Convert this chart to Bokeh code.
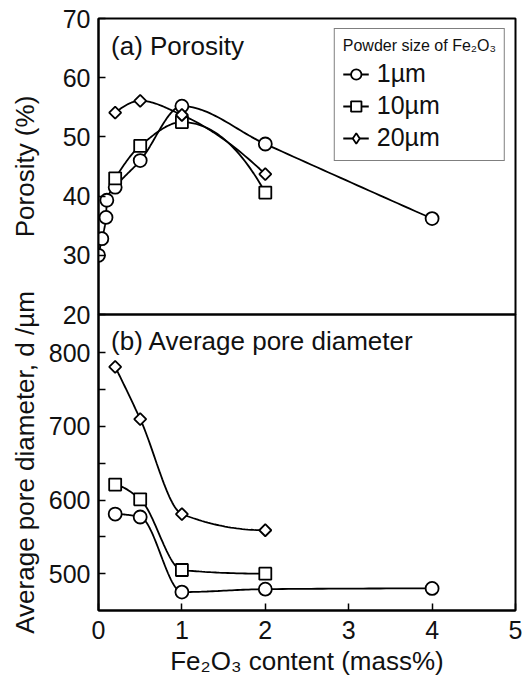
import numpy as np
from bokeh.plotting import figure
from bokeh.models import Range1d, FixedTicker, Label, Legend, LegendItem
from bokeh.layouts import column
from bokeh.embed import file_html
from bokeh.resources import INLINE

FONT = "Liberation Sans"

# ---- data ----
x_por_1 = [0.0, 0.04, 0.09, 0.1, 0.2, 0.5, 1.0, 2.0, 4.0]
por_1 = [30.0, 32.8, 36.4, 39.3, 41.5, 46.0, 55.2, 48.8, 36.2]
x_por_10 = [0.2, 0.5, 1.0, 2.0]
por_10 = [43.0, 48.5, 52.5, 40.6]
x_por_20 = [0.2, 0.5, 1.0, 2.0]
por_20 = [54.1, 56.1, 53.7, 43.7]

x_dia_1 = [0.2, 0.5, 1.0, 2.0, 4.0]
dia_1 = [581, 577, 475, 479, 480]
x_dia_10 = [0.2, 0.5, 1.0, 2.0]
dia_10 = [621, 601, 505, 500]
x_dia_20 = [0.2, 0.5, 1.0, 2.0]
dia_20 = [781, 710, 581, 559]

series_labels = ["1\u00b5m", "10\u00b5m", "20\u00b5m"]
x_ticks = [0, 1, 2, 3, 4, 5]
por_ticks = [20, 30, 40, 50, 60, 70]
dia_ticks = [500, 600, 700, 800]
dia_minor = [550, 650, 750]


def pchip(xs, ys, n=30):
    x = np.asarray(xs, float)
    y = np.asarray(ys, float)
    h = np.diff(x)
    d = np.diff(y) / h
    m = np.zeros_like(y)
    for i in range(1, len(x) - 1):
        if d[i - 1] * d[i] <= 0:
            m[i] = 0.0
        else:
            w1 = 2 * h[i] + h[i - 1]
            w2 = h[i] + 2 * h[i - 1]
            m[i] = (w1 + w2) / (w1 / d[i - 1] + w2 / d[i])

    def end(h0, h1, d0, d1):
        mm = ((2 * h0 + h1) * d0 - h0 * d1) / (h0 + h1)
        if np.sign(mm) != np.sign(d0):
            mm = 0.0
        elif np.sign(d0) != np.sign(d1) and abs(mm) > abs(3 * d0):
            mm = 3 * d0
        return mm

    if len(x) > 2:
        m[0] = end(h[0], h[1], d[0], d[1])
        m[-1] = end(h[-1], h[-2], d[-1], d[-2])
    else:
        m[0] = m[-1] = d[0]
    xx, yy = [], []
    for i in range(len(x) - 1):
        t = np.linspace(0, 1, n, endpoint=(i == len(x) - 2))
        h00 = 2 * t**3 - 3 * t**2 + 1
        h10 = t**3 - 2 * t**2 + t
        h01 = -2 * t**3 + 3 * t**2
        h11 = t**3 - t**2
        xx.extend(x[i] + t * h[i])
        yy.extend(h00 * y[i] + h10 * h[i] * m[i] + h01 * y[i + 1] + h11 * h[i] * m[i + 1])
    return xx, yy


def style(p):
    p.toolbar_location = None
    p.grid.visible = False
    p.outline_line_color = "black"
    p.outline_line_width = 2
    p.border_fill_color = None
    p.background_fill_color = None
    for ax in p.axis:
        ax.axis_line_color = "black"
        ax.axis_line_width = 2
        ax.major_tick_line_color = "black"
        ax.major_tick_line_width = 1.5
        ax.minor_tick_line_color = "black"
        ax.minor_tick_line_width = 1.5
        ax.major_tick_in = 7
        ax.major_tick_out = 0
        ax.minor_tick_in = 7
        ax.minor_tick_out = 0
        ax.major_label_text_font = FONT
        ax.major_label_text_font_size = "25px"
        ax.major_label_text_color = "#111111"
        ax.major_label_standoff = 8
        ax.axis_label_text_font = FONT
        ax.axis_label_text_font_size = "26px"
        ax.axis_label_text_font_style = "normal"
        ax.axis_label_text_color = "#111111"


def draw(p, xs, ys, marker, size, angle=0.0, proxy=False):
    lx, ly = pchip(xs, ys)
    lr = p.line(lx, ly, line_color="black", line_width=1.8)
    rs = [lr]
    if proxy:
        # diamond drawn beneath the rotated squares; it only serves the legend key
        rs.append(p.scatter(xs, ys, marker="diamond", size=10.5,
                            fill_color="white", line_color="black", line_width=1.8))
    sr = p.scatter(xs, ys, marker=marker, size=size, angle=angle,
                   fill_color="white", line_color="black", line_width=1.8)
    if not proxy:
        rs.append(sr)
    return rs


# ---- top panel: porosity ----
p_top = figure(width=530, height=330, output_backend="svg", toolbar_location=None,
               x_range=Range1d(0, 5), y_range=Range1d(20, 70),
               min_border_left=98, min_border_right=15,
               min_border_top=18, min_border_bottom=16)
p_top.xaxis.visible = False
p_top.yaxis.ticker = FixedTicker(ticks=por_ticks)
p_top.yaxis.axis_label = "Porosity (%)"
style(p_top)
p_top.yaxis.axis_label_standoff = 20

r1 = draw(p_top, x_por_1, por_1, "circle", 13)
r10 = draw(p_top, x_por_10, por_10, "square", 12)
r20 = draw(p_top, x_por_20, por_20, "square", 8.5, np.pi / 4, proxy=True)

legend = Legend(items=[LegendItem(label=series_labels[0], renderers=r1),
                       LegendItem(label=series_labels[1], renderers=r10),
                       LegendItem(label=series_labels[2], renderers=r20)],
                location="top_right",
                title="Powder size of Fe\u2082O\u2083",
                title_text_font=FONT, title_text_font_size="16px",
                title_text_font_style="normal", title_text_color="#111111",
                title_standoff=4,
                label_text_font=FONT, label_text_font_size="25px",
                label_text_color="#111111",
                glyph_width=26, glyph_height=26, label_height=26,
                label_standoff=8, spacing=3, padding=8, margin=10,
                border_line_color="black", border_line_width=1.5,
                background_fill_color="white")
p_top.add_layout(legend)

p_top.add_layout(Label(x=0.15, y=65.4, text="(a) Porosity", text_font=FONT,
                       text_font_size="26px", text_baseline="middle",
                       text_color="#111111"))

# ---- bottom panel: average pore diameter ----
p_bot = figure(width=530, height=410, output_backend="svg", toolbar_location=None,
               x_range=Range1d(0, 5), y_range=Range1d(450, 852),
               min_border_left=98, min_border_right=15,
               min_border_top=44, min_border_bottom=70)
p_bot.margin = (-60, 0, 0, 0)
p_bot.xaxis.ticker = FixedTicker(ticks=x_ticks)
p_bot.xaxis.axis_label = "Fe\u2082O\u2083 content (mass%)"
p_bot.yaxis.ticker = FixedTicker(ticks=dia_ticks, minor_ticks=dia_minor)
p_bot.yaxis.axis_label = "Average pore diameter, d /\u00b5m"
style(p_bot)
p_bot.yaxis.axis_label_standoff = 6
p_bot.xaxis.axis_label_standoff = 4
p_bot.xaxis.major_label_standoff = 10

draw(p_bot, x_dia_1, dia_1, "circle", 13)
draw(p_bot, x_dia_10, dia_10, "square", 12)
draw(p_bot, x_dia_20, dia_20, "square", 8.5, np.pi / 4)

p_bot.add_layout(Label(x=0.15, y=816, text="(b) Average pore diameter", text_font=FONT,
                       text_font_size="26px", text_baseline="middle",
                       text_color="#111111"))

layout = column(p_top, p_bot, spacing=0)

open("out.html", "w").write(file_html(layout, INLINE))
